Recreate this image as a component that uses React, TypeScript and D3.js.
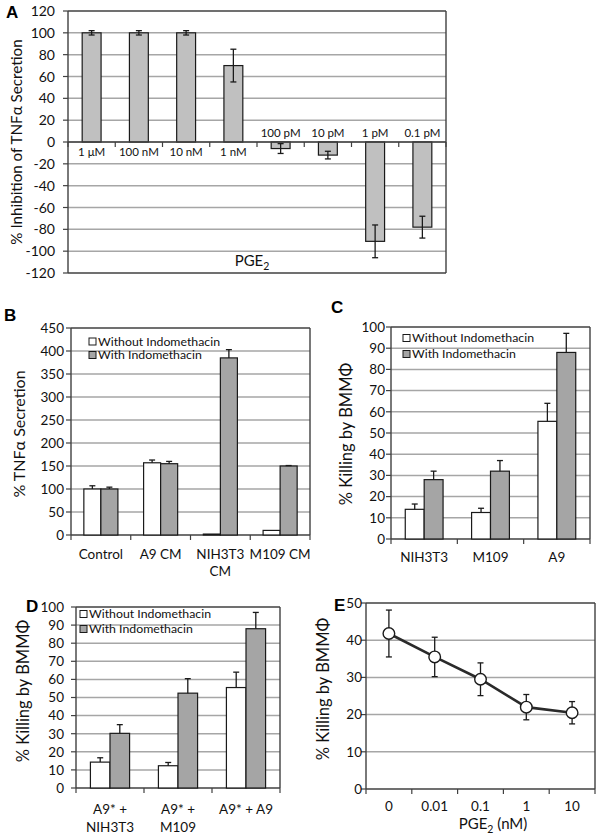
import React from 'react';
import * as d3 from 'd3';

const FONT = "Lato, 'Open Sans', sans-serif";
const GRID = '#a6a6a6';
const FRAME = '#404040';
const INK = '#1a1a1a';
const LIGHT_BAR = '#c0c0c0';
const DARK_BAR = '#a5a5a5';

// ---------- Panel A ----------
const aCategories = ['1 μM', '100 nM', '10 nM', '1 nM', '100 pM', '10 pM', '1 pM', '0.1 pM'];
const aValues = [100, 100, 100, 70, -6, -12, -91, -78];
const aErrors = [2, 2, 2, 15, 4.5, 3.5, 15, 10];
const aTicks = [-120, -100, -80, -60, -40, -20, 0, 20, 40, 60, 80, 100, 120];

// ---------- Panel B ----------
const bCategories = [['Control'], ['A9 CM'], ['NIH3T3', 'CM'], ['M109 CM']];
const bWithout = [100, 157, 2, 10];
const bWithoutErr = [7, 6, 0, 0];
const bWith = [100, 155, 385, 150];
const bWithErr = [4, 5, 18, 1];
const bTicks = [0, 50, 100, 150, 200, 250, 300, 350, 400, 450];

// ---------- Panel C ----------
const cCategories = [['NIH3T3'], ['M109'], ['A9']];
const cWithout = [14, 12.5, 55.5];
const cWithoutErr = [2.5, 2, 8.5];
const cWith = [28, 32, 88];
const cWithErr = [4, 5, 9];
const killTicks = [0, 10, 20, 30, 40, 50, 60, 70, 80, 90, 100];

// ---------- Panel D ----------
const dCategories = [['A9* +', 'NIH3T3'], ['A9* +', 'M109'], ['A9* + A9']];
const dWithout = [14.3, 12.3, 55.5];
const dWithoutErr = [2.4, 1.8, 8.5];
const dWith = [30.2, 52.4, 88];
const dWithErr = [4.8, 8, 9];

// ---------- Panel E ----------
const eCategories = ['0', '0.01', '0.1', '1', '10'];
const eValues = [41.8, 35.5, 29.5, 22, 20.5];
const eErrors = [6.3, 5.3, 4.4, 3.4, 3];
const eTicks = [0, 10, 20, 30, 40, 50];

const legendLabels = ['Without Indomethacin', 'With Indomethacin'];

const TICK_FS = 13.5;
const CAT_FS = 13.5;

function ErrorBar({ x, y1, y2, cap = 6 }: { x: number; y1: number; y2: number; cap?: number }) {
  return (
    <g stroke={INK} strokeWidth={1.3}>
      <line x1={x} x2={x} y1={y1} y2={y2} />
      <line x1={x - cap / 2} x2={x + cap / 2} y1={y2} y2={y2} />
    </g>
  );
}

function YAxis({ y, ticks, left, right, labelX, fontSize = TICK_FS }: any) {
  return (
    <g>
      {ticks.map((t: number, i: number) => (
        <g key={i}>
          {i > 0 && i < ticks.length - 1 && (
            <line x1={left} x2={right} y1={y(t)} y2={y(t)} stroke={GRID} strokeWidth={1.5} />
          )}
          <line x1={left - 5} x2={left} y1={y(t)} y2={y(t)} stroke={FRAME} strokeWidth={1.2} />
          <text x={labelX} y={y(t)} dy="0.36em" textAnchor="end" fontSize={fontSize} fontFamily={FONT} fill="#111">
            {t}
          </text>
        </g>
      ))}
    </g>
  );
}

function Frame({ left, right, top, bottom }: any) {
  return (
    <g fill="none" stroke={FRAME} strokeWidth={1.4}>
      <line x1={left} x2={right} y1={top} y2={top} />
      <line x1={right} x2={right} y1={top} y2={bottom} />
      <line x1={left} x2={left} y1={top} y2={bottom} />
      <line x1={left} x2={right} y1={bottom} y2={bottom} />
    </g>
  );
}

function YLabel({ x, y, text, fontSize = 16.5 }: any) {
  return (
    <text transform={`translate(${x},${y}) rotate(-90)`} textAnchor="middle" fontSize={fontSize} fontFamily={FONT} fill="#111">
      {text}
    </text>
  );
}

function Letter({ x, y, t }: any) {
  return (
    <text x={x} y={y} fontSize={17} fontWeight="bold" fontFamily="'Liberation Sans', Arial, sans-serif" fill="#000">
      {t}
    </text>
  );
}

function Legend({ x, y, gap }: any) {
  return (
    <g>
      {legendLabels.map((l, i) => (
        <g key={l}>
          <rect x={x} y={y + i * gap - 3.5} width={7} height={7} fill={i === 0 ? '#fff' : DARK_BAR} stroke={INK} strokeWidth={1} />
          <text x={x + 9} y={y + i * gap} dy="0.36em" fontSize={12.3} fontFamily={FONT} fill="#111">
            {l}
          </text>
        </g>
      ))}
    </g>
  );
}

function GroupedPanel(props: any) {
  const { left, right, top, bottom, ticks, cats, without, withoutErr, withV, withErr, labelX, xLabelY, lineGap, legend, groupFrac } = props;
  const y = d3.scaleLinear().domain([ticks[0], ticks[ticks.length - 1]]).range([bottom, top]);
  const keys = cats.map((c: string[]) => c.join(' '));
  const x0 = d3.scaleBand().domain(keys).range([left, right]).padding(0);
  const step = x0.step();
  const gw = step * groupFrac;
  const x1 = d3.scaleBand().domain(['without', 'with']).range([(step - gw) / 2, (step + gw) / 2]).padding(0);
  const boundaries = keys.map((k: string) => x0(k) as number).concat([right]);
  return (
    <g>
      <YAxis y={y} ticks={ticks} left={left} right={right} labelX={labelX} />
      <Frame left={left} right={right} top={top} bottom={bottom} />
      {boundaries.map((b: number, i: number) => (
        <line key={i} x1={b} x2={b} y1={bottom} y2={bottom + 5} stroke={FRAME} strokeWidth={1.2} />
      ))}
      {keys.map((k: string, i: number) => {
        const gx = x0(k) as number;
        const bw = x1.bandwidth();
        const xa = gx + (x1('without') as number);
        const xb = gx + (x1('with') as number);
        return (
          <g key={k}>
            <rect x={xa} y={y(without[i])} width={bw} height={bottom - y(without[i])} fill="#fff" stroke={INK} strokeWidth={1.2} />
            <rect x={xb} y={y(withV[i])} width={bw} height={bottom - y(withV[i])} fill={DARK_BAR} stroke={INK} strokeWidth={1.2} />
            {withoutErr[i] > 0 && <ErrorBar x={xa + bw / 2} y1={y(without[i])} y2={y(without[i] + withoutErr[i])} />}
            {withErr[i] > 0 && <ErrorBar x={xb + bw / 2} y1={y(withV[i])} y2={y(withV[i] + withErr[i])} />}
            {cats[i].map((line: string, j: number) => (
              <text key={j} x={gx + step / 2} y={xLabelY + j * lineGap} textAnchor="middle" fontSize={CAT_FS} fontFamily={FONT} fill="#111">
                {line}
              </text>
            ))}
          </g>
        );
      })}
      <Legend {...legend} />
    </g>
  );
}

function PanelA() {
  const left = 68, right = 446, top = 11, bottom = 273;
  const y = d3.scaleLinear().domain([-120, 120]).range([bottom, top]);
  const x = d3.scaleBand().domain(aCategories).range([left, right]).paddingInner(0.6).paddingOuter(0.3);
  const step = x.step();
  const y0 = y(0);
  return (
    <g>
      <YAxis y={y} ticks={aTicks} left={left} right={right} labelX={55} fontSize={14} />
      <Frame left={left} right={right} top={top} bottom={bottom} />
      {aCategories.map((c, i) => {
        const bx = x(c) as number;
        const v = aValues[i];
        const e = aErrors[i];
        const bw = x.bandwidth();
        const cx = bx + bw / 2;
        return (
          <g key={c}>
            <rect x={bx} y={Math.min(y(v), y0)} width={bw} height={Math.abs(y(v) - y0)} fill={LIGHT_BAR} stroke={INK} strokeWidth={1.2} />
            <line x1={cx} x2={cx} y1={y(v - e)} y2={y(v + e)} stroke={INK} strokeWidth={1.3} />
            <line x1={cx - 3} x2={cx + 3} y1={y(v - e)} y2={y(v - e)} stroke={INK} strokeWidth={1.3} />
            <line x1={cx - 3} x2={cx + 3} y1={y(v + e)} y2={y(v + e)} stroke={INK} strokeWidth={1.3} />
            <text x={cx} y={v >= 0 ? y0 + 14 : y0 - 5} textAnchor="middle" fontSize={11.5} fontFamily={FONT} fill="#111">
              {c}
            </text>
          </g>
        );
      })}
      <line x1={left} x2={right} y1={y0} y2={y0} stroke={FRAME} strokeWidth={1.4} />
      {d3.range(0, aCategories.length + 1).map((i) => (
        <line key={i} x1={left + i * step} x2={left + i * step} y1={y0} y2={y0 + 5} stroke={FRAME} strokeWidth={1.2} />
      ))}
      <text x={252} y={266} textAnchor="middle" fontSize={15} fontFamily={FONT} fill="#111">
        PGE<tspan fontSize={10.5} dy={3.5}>2</tspan>
      </text>
      <YLabel x={22} y={142} text="% Inhibition of TNFα Secretion" fontSize={15.2} />
      <Letter x={6} y={18} t="A" />
    </g>
  );
}

function PanelE() {
  const left = 366, right = 595, top = 603, bottom = 789;
  const y = d3.scaleLinear().domain([0, 50]).range([bottom, top]);
  const x = d3.scalePoint().domain(eCategories).range([left, right]).padding(0.5);
  const step = x.step();
  const line = d3.line<number>().x((_, i) => x(eCategories[i]) as number).y((d) => y(d));
  return (
    <g>
      <YAxis y={y} ticks={eTicks} left={left} right={right} labelX={362} />
      <Frame left={left} right={right} top={top} bottom={bottom} />
      {d3.range(0, eCategories.length + 1).map((i) => (
        <line key={i} x1={left + i * step} x2={left + i * step} y1={bottom} y2={bottom + 5} stroke={FRAME} strokeWidth={1.2} />
      ))}
      {eCategories.map((c, i) => {
        const cx = x(c) as number;
        const v = eValues[i], e = eErrors[i];
        return (
          <g key={c} stroke={INK} strokeWidth={1.3}>
            <line x1={cx} x2={cx} y1={y(v - e)} y2={y(v + e)} />
            <line x1={cx - 3} x2={cx + 3} y1={y(v - e)} y2={y(v - e)} />
            <line x1={cx - 3} x2={cx + 3} y1={y(v + e)} y2={y(v + e)} />
          </g>
        );
      })}
      <path d={line(eValues) as string} fill="none" stroke="#2a2a2a" strokeWidth={2.6} />
      {eCategories.map((c, i) => (
        <circle key={c} cx={x(c) as number} cy={y(eValues[i])} r={5.8} fill="#fff" stroke={INK} strokeWidth={1.4} />
      ))}
      {eCategories.map((c) => (
        <text key={c} x={x(c) as number} y={811} textAnchor="middle" fontSize={CAT_FS} fontFamily={FONT} fill="#111">
          {c}
        </text>
      ))}
      <text x={493} y={829} textAnchor="middle" fontSize={15} fontFamily={FONT} fill="#111">
        PGE<tspan fontSize={10.5} dy={3.5}>2</tspan>
        <tspan dy={-3.5}> (nM)</tspan>
      </text>
      <YLabel x={329} y={689} text="% Killing by BMMΦ" />
      <Letter x={334} y={611} t="E" />
    </g>
  );
}

export default function App() {
  return (
    <svg width={600} height={837} style={{ position: 'absolute', left: 0, top: 0, background: '#fff' }}>
      <rect x={0} y={0} width={600} height={837} fill="#fff" />
      <PanelA />
      <GroupedPanel
        left={71} right={310} top={328} bottom={535} ticks={bTicks} cats={bCategories}
        without={bWithout} withoutErr={bWithoutErr} withV={bWith} withErr={bWithErr}
        labelX={64} xLabelY={559} lineGap={17} groupFrac={0.57}
        legend={{ x: 89, y: 341.5, gap: 13.5 }}
      />
      <YLabel x={25} y={434} text="% TNFα Secretion" fontSize={16} />
      <Letter x={4} y={321} t="B" />
      <GroupedPanel
        left={391} right={590} top={327} bottom={539} ticks={killTicks} cats={cCategories}
        without={cWithout} withoutErr={cWithoutErr} withV={cWith} withErr={cWithErr}
        labelX={385} xLabelY={562} lineGap={17} groupFrac={0.57}
        legend={{ x: 403, y: 338, gap: 16 }}
      />
      <YLabel x={352} y={434} text="% Killing by BMMΦ" />
      <Letter x={331} y={313} t="C" />
      <GroupedPanel
        left={76} right={280} top={607} bottom={788} ticks={killTicks} cats={dCategories}
        without={dWithout} withoutErr={dWithoutErr} withV={dWith} withErr={dWithErr}
        labelX={64} xLabelY={814} lineGap={18} groupFrac={0.576}
        legend={{ x: 80, y: 614, gap: 15 }}
      />
      <YLabel x={29} y={691} text="% Killing by BMMΦ" />
      <Letter x={26} y={612} t="D" />
      <PanelE />
    </svg>
  );
}
